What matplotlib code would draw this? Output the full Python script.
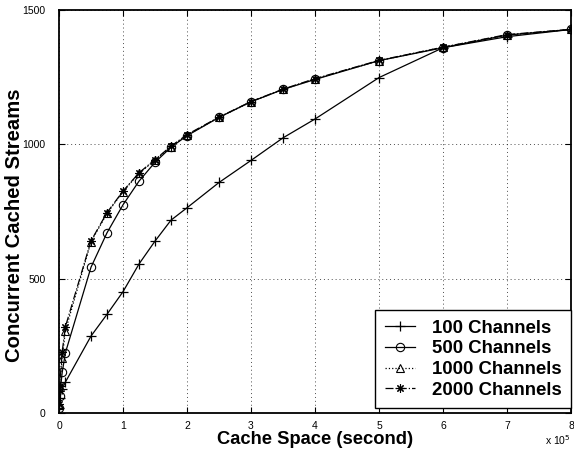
import numpy as np
import matplotlib
matplotlib.use("Agg")
import matplotlib.pyplot as plt

plt.rcParams["font.family"] = ["Liberation Sans", "DejaVu Sans"]

# cache space in units of 1e5 seconds
cache_space = [0.002, 0.01, 0.05, 0.1, 0.5, 0.75, 1.0, 1.25, 1.5, 1.75,
               2.0, 2.5, 3.0, 3.5, 4.0, 5.0, 6.0, 7.0, 8.0]

ch100 = [20, 55, 90, 115, 286, 367, 451, 554, 639, 717,
         763, 857, 939, 1023, 1093, 1247, 1358, 1399, 1426]
ch500 = [20, 63, 151, 224, 542, 670, 774, 862, 932, 988,
         1031, 1099, 1157, 1203, 1240, 1310, 1358, 1405, 1426]
ch1000 = [30, 95, 205, 306, 637, 742, 823, 891, 940, 990,
          1033, 1099, 1157, 1203, 1242, 1310, 1360, 1405, 1426]
ch2000 = [35, 100, 228, 321, 640, 745, 825, 893, 942, 992,
          1035, 1100, 1158, 1204, 1243, 1311, 1360, 1407, 1426]

labels = ["100 Channels", "500 Channels", "1000 Channels", "2000 Channels"]

fig = plt.figure(figsize=(5.74, 4.54), dpi=100)
ax = fig.add_axes([0.1028, 0.0903, 0.8920, 0.8887])

x = np.array(cache_space)
ax.plot(x, ch100, "k-", marker="+", ms=7, mew=0.9, lw=0.9, label=labels[0])
ax.plot(x, ch500, "k-", marker="o", ms=6, mfc="none", mew=0.8, lw=0.9,
        label=labels[1])
ax.plot(x, ch1000, "k:", marker="^", ms=6, mfc="none", mew=0.8, lw=0.9,
        label=labels[2])
# asterisk marker: 8 spokes
ax.plot(x, ch2000, "k-.", marker=(8, 2, 0), ms=6, mew=0.8, lw=0.9,
        label=labels[3])

ax.set_xlim(0, 8)
ax.set_ylim(0, 1500)
ax.set_xticks(range(0, 9))
ax.set_yticks([0, 500, 1000, 1500])
ax.tick_params(direction="in", top=True, right=True, labelsize=7.5,
               length=4, width=0.8)
ax.tick_params(axis="x", pad=6)
ax.tick_params(axis="y", pad=9.5)
ax.grid(True, linestyle=(0, (1, 3)), color="k", lw=0.7, alpha=0.7)
for s in ax.spines.values():
    s.set_linewidth(1.3)

ax.set_xlabel("Cache Space (second)", fontsize=13.2, fontweight="bold",
              labelpad=0)
ax.set_ylabel("Concurrent Cached Streams", fontsize=14.6, fontweight="bold")
ax.yaxis.set_label_coords(-0.068, 0.466)
ax.text(1.0, -0.05, r"x 10$^5$", transform=ax.transAxes, ha="right",
        va="top", fontsize=7.5)

leg = ax.legend(loc="lower right", bbox_to_anchor=(1.0, 0.012),
                prop={"weight": "bold", "size": 13.4},
                fancybox=False, framealpha=1, edgecolor="k",
                borderaxespad=0, handlelength=1.65, labelspacing=0.2,
                borderpad=0.5, handletextpad=0.9)
leg.get_frame().set_linewidth(1.0)

fig.savefig("out.png", dpi=100)
